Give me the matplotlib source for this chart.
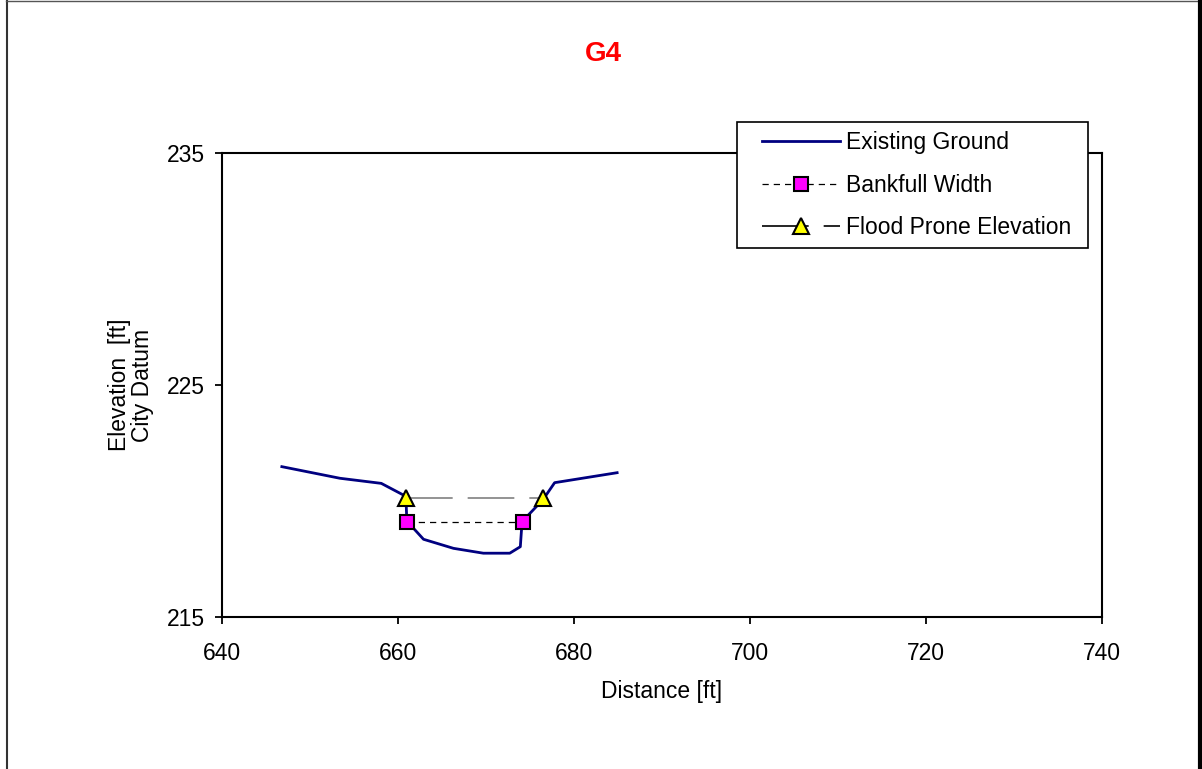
import numpy as np
import matplotlib
matplotlib.use('Agg')
import matplotlib.pyplot as plt
from matplotlib.lines import Line2D
from matplotlib.legend_handler import HandlerLine2D

plt.rcParams['font.family'] = ['Liberation Sans', 'DejaVu Sans']

# Existing ground cross-section (distance, elevation)
ground_x = [646.8, 653.4, 658.1, 660.9, 661.0, 662.9, 666.3, 669.7, 672.7, 673.9, 674.1, 676.5, 677.8, 684.9]
ground_y = [221.48, 220.98, 220.76, 220.2, 219.14, 218.35, 217.96, 217.75, 217.75, 218.03, 219.11, 220.07, 220.79, 221.22]

# Bankfull width endpoints
bank_x = [661.0, 674.2]
bank_y = [219.1, 219.1]

# Flood prone elevation endpoints
flood_x = [660.9, 676.5]
flood_y = [220.15, 220.15]

fs = 16.5

fig = plt.figure(figsize=(12.02, 7.69), dpi=100)
ax = fig.add_axes([222/1202, 1-617/769, 880/1202, 464/769])

ax.plot(ground_x, ground_y, color='#000080', lw=2, label='Existing Ground', zorder=2)
ax.plot(bank_x, bank_y, color='black', lw=0.9, dashes=(5, 4), marker='s', ms=10,
        mfc='#ff00ff', mec='black', mew=1.5, label='Bankfull Width', zorder=3)
ax.plot(flood_x, flood_y, color='#808080', lw=1.2, dashes=(28, 9), marker='^', ms=11,
        mfc='#ffff00', mec='black', mew=1.5, label='Flood Prone Elevation', zorder=3)

ax.set_xlim(640, 740)
ax.set_ylim(215, 235)
ax.set_xticks(np.arange(640, 741, 20))
ax.set_yticks([215, 225, 235])
ax.tick_params(direction='out', length=5, width=1.3, labelsize=fs, colors='black')
ax.tick_params(axis='x', pad=13)
ax.tick_params(axis='y', pad=7)
for s in ax.spines.values():
    s.set_linewidth(1.5)

ax.set_xlabel('Distance [ft]', fontsize=fs)
ax.xaxis.set_label_coords(0.5, (617-680)/464)
ax.set_ylabel('Elevation  [ft]\nCity Datum', fontsize=fs, linespacing=1.05)
ax.yaxis.set_label_coords((131-222)/880, 0.5)
ax.yaxis.label.set_verticalalignment('center')

fig.text(603/1202, 1-54/769, 'G4', color='red', fontsize=20, fontweight='bold',
         ha='center', va='center')

leg = ax.legend(loc='upper left', bbox_to_anchor=(737/1202, 1-249/769, 351/1202, 127/769),
                bbox_transform=fig.transFigure, mode='expand', fontsize=fs, frameon=True,
                fancybox=False, edgecolor='black', framealpha=1, borderaxespad=0,
                handlelength=4.1, handletextpad=0.26, labelspacing=0.85, borderpad=0.4,
                handler_map={Line2D: HandlerLine2D(xpad=0.7)})
leg.get_frame().set_linewidth(1.2)
leg.legend_handles[2].set_color('black')

# outer chart border
fig.add_artist(Line2D([6.5/1202, 6.5/1202], [0, 1], transform=fig.transFigure,
                      color='#333333', lw=1.5))
fig.add_artist(Line2D([6/1202, 1], [1-0.7/769, 1-0.7/769], transform=fig.transFigure,
                      color='#555555', lw=1))
fig.add_artist(Line2D([1199.5/1202, 1199.5/1202], [0, 1], transform=fig.transFigure,
                      color='black', lw=3))

fig.savefig('out.png', dpi=100)
